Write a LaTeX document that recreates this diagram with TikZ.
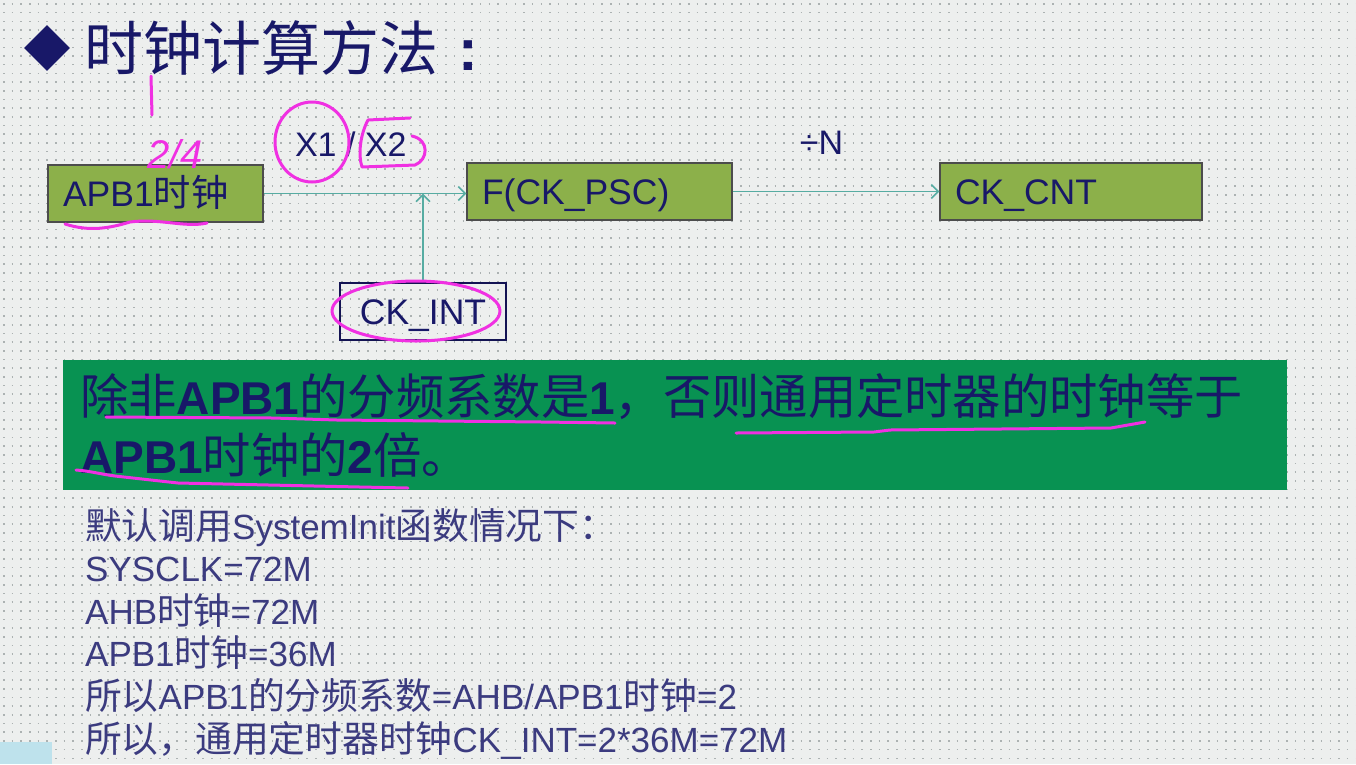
\documentclass[tikz,border=0pt]{standalone}
\usepackage{fontspec}
\setmainfont{Liberation Sans}
\newfontfamily\cjk{Noto Sans CJK SC}
\newfontfamily\cjkwide[Scale=1.05]{Noto Sans CJK SC}
\newcommand{\zh}[1]{{\cjkwide #1}}
\usetikzlibrary{shapes.geometric,arrows.meta,positioning}

\definecolor{slidebg}{RGB}{237,239,238}
\definecolor{dotgray}{RGB}{172,178,178}
\definecolor{navy}{RGB}{24,24,104}
\definecolor{boxgreen}{RGB}{140,176,74}
\definecolor{bandgreen}{RGB}{8,146,82}
\definecolor{linkteal}{RGB}{86,172,162}
\definecolor{inkpink}{RGB}{240,48,226}
\definecolor{overlayblue}{RGB}{190,226,236}

\tikzstyle{blk} = [draw=black!70, line width=1.2pt, fill=boxgreen, minimum height=57pt, inner xsep=15pt, inner ysep=0pt, text height=25pt, text depth=0pt, text=navy, font=\fontsize{35.5}{40}\selectfont, align=left]
\tikzstyle{lnk} = [draw=linkteal, line width=1.6pt, -{Straight Barb[length=7pt,width=14pt]}]
\tikzstyle{lbl} = [text=navy, font=\fontsize{34}{40}\selectfont, inner sep=0pt]
\tikzstyle{txt} = [anchor=base west, text=navy!85, font=\fontsize{35}{40}\selectfont, inner sep=0pt]
\tikzstyle{bandtxt} = [anchor=base west, text=navy, font=\fontsize{46}{57}\selectfont, inner sep=0pt]
\tikzstyle{ink} = [draw=inkpink, line width=3pt, line cap=round, line join=round]

\begin{document}
\begin{tikzpicture}[x=1pt, y=-1pt]
%slide
\useasboundingbox (0,0) rectangle (1356,764);
\fill[slidebg] (0,0) rectangle (1356,764);
\foreach \y in {4,12.67,...,764}
    \draw[dotgray, line width=1.6pt, dash pattern=on 1.6pt off 7.07pt] (3,\y) -- (1356,\y);
\fill[overlayblue] (0,742) rectangle (52,764);

%title
\node[diamond, fill=navy, minimum size=46pt, inner sep=0pt] (mark) at (47,48) {};
\node[anchor=west, text=navy, font=\fontsize{59}{60}\selectfont, inner sep=0pt] (title) at (84,48) {{\cjk 时钟计算方法}\hspace{20pt}\textbf{:}};

%begin clock chain
\node[blk, text width=185pt] (apb) at (155.5,193.5) {APB1\zh{时钟}};
\node[blk, text width=235pt] (psc) at (599.5,191.5) {F(CK\_PSC)};
\node[blk, text width=232pt] (cnt) at (1071,191.5) {CK\_CNT};
\node[blk, fill=none, draw=navy!80!black, line width=2pt, align=center, text width=136pt] (int) at (423,311.5) {CK\_INT};

\draw[lnk] (apb.east) -- node[lbl, pos=0.43, above=36pt] (ratio) {X1 / X2} (apb.east -| psc.west);
\draw[lnk] (int.north) -- (int.north |- apb.east);
\draw[lnk] (psc) -- node[lbl, pos=0.43, above=36pt] (div) {÷N} (cnt);
%end clock chain

%begin band
\node[fill=bandgreen, minimum width=1224pt, minimum height=130pt, anchor=north west, inner sep=0pt] (band) at (63,360) {};
\node[bandtxt] (band1) at (80,414) {\zh{除非}\textbf{APB1}\zh{的分频系数是}\textbf{1}\zh{，否则通用定时器的时钟等于}};
\node[bandtxt] (band2) at (80,473) {\textbf{APB1}\zh{时钟的}\textbf{2}\zh{倍。}};
%end band

%begin notes
\node[txt] (l1) at (85,539) {\zh{默认调用}SystemInit\zh{函数情况下：}};
\node[txt] (l2) at (85,581.6) {SYSCLK=72M};
\node[txt] (l3) at (85,624.2) {AHB\zh{时钟}=72M};
\node[txt] (l4) at (85,666.8) {APB1\zh{时钟}=36M};
\node[txt] (l5) at (85,709.4) {\zh{所以}APB1\zh{的分频系数}=AHB/APB1\zh{时钟}=2};
\node[txt] (l6) at (85,752) {\zh{所以，通用定时器时钟}CK\_INT=2*36M=72M};
%end notes

%begin pink ink
\draw[ink] (151,76) -- (152,115);
\node[text=inkpink, font=\fontsize{40}{40}\selectfont\itshape, inner sep=0pt] (hand) at (175,154) {2/4};
\draw[ink] (65,224) .. controls (90,232) and (110,228) .. (130,222) .. controls (160,218) and (185,228) .. (207,223);
\draw[ink] (312,142) ellipse [x radius=37, y radius=40];
\draw[ink] (410,118) -- (368,120) .. controls (360,135) and (358,155) .. (362,167) -- (415,165) .. controls (428,160) and (430,140) .. (412,136);
\draw[ink] (416,311) ellipse [x radius=84, y radius=30];
\draw[ink] (106,417) -- (273,418) -- (337,420) -- (542,422) -- (615,423);
\draw[ink] (736,433) -- (874,432) -- (890,430) -- (1111,428) -- (1145,422);
\draw[ink] (76,470) .. controls (90,471) and (100,474) .. (115,476) -- (178,483) -- (360,487) -- (408,488);
%end pink ink
\end{tikzpicture}
\end{document}
